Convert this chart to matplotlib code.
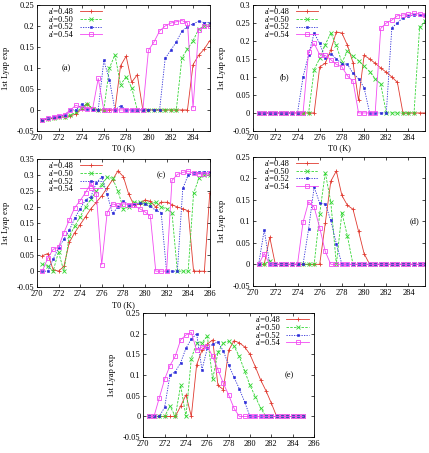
import numpy as np
import matplotlib
matplotlib.use("Agg")
import matplotlib.pyplot as plt
from matplotlib.ticker import FormatStrFormatter, MultipleLocator

# temperatures, step 0.5 K
x_a = np.arange(270.5, 285.51, 0.5)   # panels a, b, d
x_c = np.arange(270.5, 286.01, 0.5)   # panel c
x_e = np.arange(270.5, 285.01, 0.5)   # panel e

labels = ["a'=0.48", "a'=0.50", "a'=0.52", "a'=0.54"]

# panel (a)
a_048 = [-0.024, -0.022, -0.02, -0.018, -0.016, -0.014, -0.01, 0.002, 0.015, 0.002,
         0, 0, 0, 0, 0.105, 0.128, 0.066, 0.084, 0, 0,
         0, 0, 0, 0, 0, 0, 0, 0.108, 0.13, 0.145, 0.165]
a_050 = [-0.024, -0.022, -0.02, -0.018, -0.016, -0.013, -0.005, 0.005, 0.015, 0.003,
         0, 0, 0.1, 0.131, 0.06, 0.079, 0.053, 0, 0, 0,
         0, 0, 0, 0, 0, 0.124, 0.145, 0.165, 0.192, 0.2, 0.205]
a_052 = [-0.023, -0.02, -0.018, -0.015, -0.012, 0, 0, 0.013, 0.003, 0,
         0, 0.118, 0.072, 0, 0.01, 0, 0, 0, 0, 0,
         0, 0, 0.123, 0.142, 0.162, 0.188, 0.198, 0.205, 0.211, 0.208, 0.208]
a_054 = [-0.023, -0.02, -0.017, -0.014, -0.011, 0, 0.011, 0.005, 0.003, 0.003,
         0.075, 0, 0, 0, 0, 0, 0, 0, 0, 0.142,
         0.162, 0.188, 0.2, 0.207, 0.21, 0.213, 0.207, 0.005, 0.19, 0.2, 0.2]

# panel (b)
b_048 = [0, 0, 0, 0, 0, 0, 0, 0, 0, 0,
         0, 0.128, 0.138, 0.175, 0.225, 0.222, 0.188, 0.14, 0.035, 0.16,
         0.15, 0.138, 0.125, 0.113, 0.1, 0.085, 0, 0, 0, 0, 0]
b_050 = [0, 0, 0, 0, 0, 0, 0, 0, 0, 0,
         0.12, 0.152, 0.19, 0.222, 0.188, 0.14, 0.172, 0.158, 0.145, 0.13,
         0.115, 0.095, 0.08, 0, 0, 0, 0, 0, 0, 0.238, 0.255]
b_052 = [0, 0, 0, 0, 0, 0, 0, 0, 0.1, 0.162,
         0.222, 0.193, 0.153, 0.165, 0.15, 0.137, 0.135, 0.11, 0.095, 0.07,
         0, 0, 0, 0, 0.237, 0.25, 0.265, 0.27, 0.272, 0.272, 0.272]
b_054 = [0, 0, 0, 0, 0, 0, 0, 0, 0, 0.17,
         0.193, 0.162, 0.16, 0.148, 0.135, 0.128, 0.103, 0.088, 0, 0,
         0, 0, 0.235, 0.25, 0.258, 0.27, 0.272, 0.274, 0.277, 0.275, 0.272]

# panel (c)
c_048 = [0.048, 0.055, 0.005, 0, 0.015, 0.09, 0.12, 0.145, 0.17, 0.195,
         0.215, 0.235, 0.26, 0.285, 0.313, 0.295, 0.24, 0.205, 0.21, 0.222,
         0.218, 0.2, 0.215, 0.215, 0.208, 0.2, 0.195, 0.188, 0, 0, 0, 0.245]
c_050 = [0.022, 0.015, 0, 0.06, 0, 0.11, 0.14, 0.17, 0.2, 0.225,
         0.25, 0.27, 0.293, 0.29, 0.25, 0.195, 0.2, 0.215, 0.215, 0.212,
         0.21, 0.215, 0.2, 0.195, 0.183, 0, 0, 0, 0.243, 0.29, 0.3, 0.3]
c_052 = [0, 0, 0.037, 0.073, 0.1, 0.128, 0.165, 0.195, 0.222, 0.233,
         0.275, 0.295, 0.24, 0.18, 0.2, 0.218, 0.208, 0.21, 0.212, 0.21,
         0.202, 0.19, 0.183, 0, 0, 0, 0.258, 0.3, 0.305, 0.308, 0.31, 0.31]
c_054 = [0, 0.04, 0.068, 0.075, 0.12, 0.16, 0.198, 0.22, 0.245, 0.275,
         0.24, 0.02, 0.182, 0.21, 0.205, 0.21, 0.208, 0.205, 0.195, 0.185,
         0.172, 0, 0, 0, 0.283, 0.302, 0.308, 0.312, 0.305, 0.303, 0.303, 0.305]

# panel (d)
d_048 = [0, 0, 0.063, 0, 0, 0, 0, 0, 0, 0,
         0, 0, 0.095, 0.193, 0.217, 0.16, 0.137, 0.128, 0.077, 0.025,
         0, 0, 0, 0, 0, 0, 0, 0, 0, 0, 0]
d_050 = [0, 0, 0.008, 0, 0, 0, 0, 0, 0, 0,
         0, 0.118, 0.213, 0.145, 0, 0.12, 0.065, 0, 0, 0,
         0, 0, 0, 0, 0, 0, 0, 0, 0, 0, 0]
d_052 = [0, 0.08, 0, 0, 0, 0, 0, 0, 0, 0.082,
         0.18, 0.142, 0.14, 0.102, 0.048, 0, 0, 0, 0, 0,
         0, 0, 0, 0, 0, 0, 0, 0, 0, 0, 0]
d_054 = [0, 0.025, 0, 0, 0, 0, 0, 0, 0.098, 0.145,
         0.133, 0.085, 0.03, 0, 0, 0, 0, 0, 0, 0,
         0, 0, 0, 0, 0, 0, 0, 0, 0, 0, 0]

# panel (e)
e_048 = [0, 0, 0, 0, 0, 0, 0.025, 0.052, 0, 0.125,
         0.16, 0.175, 0.185, 0.075, 0.065, 0.16, 0.183, 0.178, 0.168, 0.15,
         0.12, 0.088, 0.062, 0.032, 0, 0, 0, 0, 0, 0]
e_050 = [0, 0, 0, 0, 0.025, 0, 0.075, 0, 0.14, 0.178,
         0.178, 0.195, 0.09, 0.155, 0.178, 0.182, 0.17, 0.145, 0.11, 0.075,
         0.048, 0.02, 0, 0, 0, 0, 0, 0, 0, 0]
e_052 = [0, 0, 0, 0.022, 0.1, 0.108, 0.13, 0.165, 0.187, 0.2,
         0.113, 0.165, 0.175, 0.18, 0.158, 0.125, 0.095, 0.067, 0.035, 0,
         0, 0, 0, 0, 0, 0, 0, 0, 0, 0]
e_054 = [0, 0, 0.045, 0.09, 0.123, 0.146, 0.185, 0.197, 0.203, 0.16,
         0.168, 0.17, 0.145, 0.113, 0.08, 0.052, 0.02, 0, 0, 0,
         0, 0, 0, 0, 0, 0, 0, 0, 0, 0]

plt.rcParams['font.family'] = ['Liberation Serif', 'DejaVu Serif']
plt.rcParams['font.size'] = 6

styles = [
    dict(color='#e03a30', ls='-', marker='+', ms=2.5, mew=0.6),
    dict(color='#33d633', ls=(0, (3, 1.5)), marker='x', ms=2.2, mew=0.6),
    dict(color='#2a2ad8', ls=(0, (1.5, 1.5)), marker='s', ms=1.8, mew=0.4),
    dict(color='#f24af2', ls='-', marker='s', ms=2.8, mew=0.6, mfc='none'),
]


def panel(fig, rect, x, series, ylim, xmax, tag, tag_xy, xlabel=True, legend_right=False):
    ax = fig.add_axes(rect)
    for y, st, lab in zip(series, styles, labels):
        ax.plot(x, y, lw=0.6, label=lab, **st)
    ax.set_xlim(270, xmax)
    ax.set_ylim(*ylim)
    ax.xaxis.set_major_locator(MultipleLocator(2))
    ax.yaxis.set_major_locator(MultipleLocator(0.05))
    ax.yaxis.set_major_formatter(FormatStrFormatter('%g'))
    ax.tick_params(direction='in', top=True, right=True, length=2.5, width=0.5, pad=2)
    for s in ax.spines.values():
        s.set_linewidth(0.6)
    ax.set_ylabel('1st Lyap exp', labelpad=5)
    if xlabel:
        ax.set_xlabel('T0 (K)', labelpad=2)
    ax.text(tag_xy[0], tag_xy[1], tag, ha='center', va='center')
    if legend_right:
        loc, anchor = 'upper right', (0.99, 1.0)
    else:
        loc, anchor = 'upper left', (0.05, 1.0)
    ax.legend(loc=loc, bbox_to_anchor=anchor, frameon=False,
              markerfirst=False, handlelength=2.7, handletextpad=0.7,
              labelspacing=-0.05, borderaxespad=0.2, borderpad=0.2)
    return ax


fig = plt.figure(figsize=(4.29, 4.53), dpi=100)

panel(fig, [0.086, 0.711, 0.403, 0.278], x_a, [a_048, a_050, a_052, a_054],
      (-0.05, 0.25), 285.5, '(a)', (272.6, 0.1))
panel(fig, [0.590, 0.711, 0.401, 0.278], x_a, [b_048, b_050, b_052, b_054],
      (-0.05, 0.3), 285.5, '(b)', (272.8, 0.1))
panel(fig, [0.086, 0.366, 0.403, 0.283], x_c, [c_048, c_050, c_052, c_054],
      (-0.05, 0.35), 286, '(c)', (281.5, 0.3))
panel(fig, [0.590, 0.369, 0.401, 0.285], x_a, [d_048, d_050, d_052, d_054],
      (-0.05, 0.25), 285.5, '(d)', (284.5, 0.1), xlabel=False)
panel(fig, [0.334, 0.035, 0.398, 0.274], x_e, [e_048, e_050, e_052, e_054],
      (-0.05, 0.25), 286, '(e)', (283.7, 0.1), xlabel=False, legend_right=True)

fig.savefig('out.png', dpi=100)
